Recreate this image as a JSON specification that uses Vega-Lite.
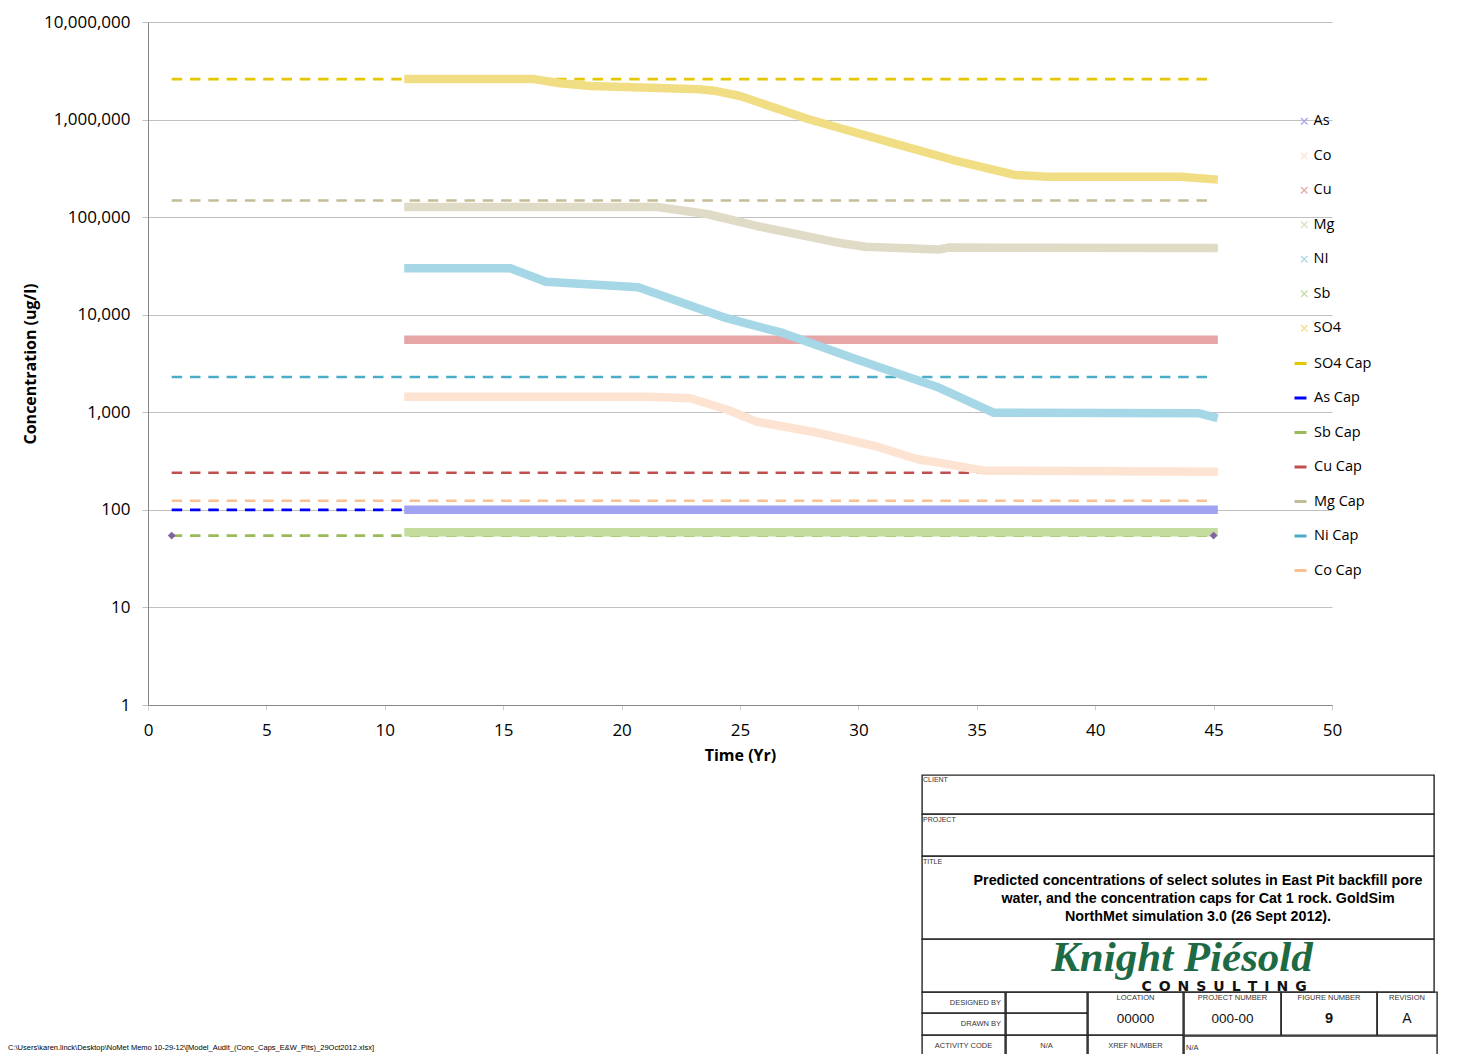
{
  "$schema": "https://vega.github.io/schema/vega-lite/v6.json",
  "padding": {"left": 8, "top": 13, "right": 0, "bottom": 0},
  "background": "white",
  "bounds": "flush",
  "spacing": 70,
  "config": {
    "font": "Liberation Sans",
    "title": {"font": "Liberation Sans", "fontWeight": "normal", "color": "#333333"}
  },
  "datasets": {
    "caps": [
      {"series": "SO4 Cap", "t": 1, "c": 2600000}, {"series": "SO4 Cap", "t": 45, "c": 2600000},
      {"series": "Mg Cap", "t": 1, "c": 148000}, {"series": "Mg Cap", "t": 45, "c": 148000},
      {"series": "Ni Cap", "t": 1, "c": 2300}, {"series": "Ni Cap", "t": 45, "c": 2300},
      {"series": "Cu Cap", "t": 1, "c": 240}, {"series": "Cu Cap", "t": 45, "c": 240},
      {"series": "Co Cap", "t": 1, "c": 124}, {"series": "Co Cap", "t": 45, "c": 124},
      {"series": "As Cap", "t": 1, "c": 100}, {"series": "As Cap", "t": 45, "c": 100},
      {"series": "Sb Cap", "t": 1, "c": 54.5}, {"series": "Sb Cap", "t": 45, "c": 54.5}
    ],
    "bands": [
      {"series": "Cu", "t": 11, "c": 5550}, {"series": "Cu", "t": 45, "c": 5550},
      {"series": "As", "t": 11, "c": 100}, {"series": "As", "t": 45, "c": 100},
      {"series": "Sb", "t": 11, "c": 59}, {"series": "Sb", "t": 45, "c": 59},
      {"series": "Mg", "t": 11, "c": 127000}, {"series": "Mg", "t": 21.5, "c": 127000},
      {"series": "Mg", "t": 23.6, "c": 107700}, {"series": "Mg", "t": 25.7, "c": 81200},
      {"series": "Mg", "t": 29.3, "c": 53950}, {"series": "Mg", "t": 30.3, "c": 49800},
      {"series": "Mg", "t": 33.4, "c": 46600}, {"series": "Mg", "t": 33.8, "c": 48800},
      {"series": "Mg", "t": 45, "c": 48300},
      {"series": "Co", "t": 11, "c": 1445}, {"series": "Co", "t": 21.1, "c": 1445},
      {"series": "Co", "t": 22.9, "c": 1391}, {"series": "Co", "t": 24.5, "c": 1056},
      {"series": "Co", "t": 25.7, "c": 801}, {"series": "Co", "t": 28.4, "c": 609},
      {"series": "Co", "t": 30.8, "c": 444}, {"series": "Co", "t": 32.5, "c": 330},
      {"series": "Co", "t": 33.4, "c": 305}, {"series": "Co", "t": 35.3, "c": 252},
      {"series": "Co", "t": 45, "c": 246},
      {"series": "NI", "t": 11, "c": 29900}, {"series": "NI", "t": 15.3, "c": 29900},
      {"series": "NI", "t": 16.8, "c": 21800}, {"series": "NI", "t": 20.7, "c": 19100},
      {"series": "NI", "t": 24.4, "c": 9260}, {"series": "NI", "t": 26.8, "c": 6500},
      {"series": "NI", "t": 30, "c": 3435}, {"series": "NI", "t": 33.3, "c": 1830},
      {"series": "NI", "t": 35.7, "c": 990}, {"series": "NI", "t": 44.4, "c": 975},
      {"series": "NI", "t": 45, "c": 895},
      {"series": "SO4", "t": 11, "c": 2605000}, {"series": "SO4", "t": 16.3, "c": 2600000},
      {"series": "SO4", "t": 17.4, "c": 2354000}, {"series": "SO4", "t": 18.7, "c": 2210000},
      {"series": "SO4", "t": 23.3, "c": 2044000}, {"series": "SO4", "t": 23.9, "c": 1977000},
      {"series": "SO4", "t": 25, "c": 1745000}, {"series": "SO4", "t": 27.9, "c": 1007000},
      {"series": "SO4", "t": 31.5, "c": 571000}, {"series": "SO4", "t": 34, "c": 385000},
      {"series": "SO4", "t": 36.6, "c": 270400}, {"series": "SO4", "t": 38, "c": 259800},
      {"series": "SO4", "t": 43.6, "c": 259800}, {"series": "SO4", "t": 45, "c": 244300}
    ]
  },
  "vconcat": [
    {
      "width": 1184,
      "height": 683,
      "view": {"stroke": null},
      "encoding": {
        "x": {
          "field": "t", "type": "quantitative",
          "scale": {"domain": [0, 50], "nice": false, "zero": false},
          "axis": {
            "values": [0, 5, 10, 15, 20, 25, 30, 35, 40, 45, 50],
            "grid": false,
            "title": "Time (Yr)",
            "titleFont": "Open Sans", "titleFontSize": 16, "titleFontWeight": "bold", "titleColor": "#000000",
            "titlePadding": 9,
            "labelFont": "Open Sans", "labelFontSize": 17, "labelColor": "#000000",
            "labelPadding": 12, "labelFlush": false, "labelOverlap": false,
            "domainColor": "#868686", "domainWidth": 1,
            "tickColor": "#d0d0d0", "tickSize": 5
          }
        },
        "y": {
          "field": "c", "type": "quantitative",
          "scale": {"type": "log", "domain": [1, 10000000], "nice": false},
          "axis": {
            "values": [1, 10, 100, 1000, 10000, 100000, 1000000, 10000000],
            "format": ",d",
            "grid": true, "gridColor": "#c0c0c0", "gridWidth": 1,
            "title": "Concentration (ug/l)",
            "titleFont": "Open Sans", "titleFontSize": 16, "titleFontWeight": "bold", "titleColor": "#000000",
            "titlePadding": 6,
            "labelFont": "Open Sans", "labelFontSize": 17, "labelColor": "#000000",
            "labelPadding": 12, "labelFlush": false, "labelOverlap": false,
            "tickSize": 6, "tickColor": "#c0c0c0",
            "domainColor": "#868686",
            "minExtent": 104, "maxExtent": 104
          }
        }
      },
      "layer": [
        {
          "data": {"name": "caps"},
          "mark": {"type": "line", "strokeDash": [10.5, 7.8], "strokeWidth": 2.6, "strokeCap": "butt"},
          "encoding": {
            "stroke": {
              "field": "series", "type": "nominal",
              "scale": {
                "domain": ["SO4 Cap", "As Cap", "Sb Cap", "Cu Cap", "Mg Cap", "Ni Cap", "Co Cap"],
                "range": ["#e5c700", "#0000ff", "#9bbb59", "#c0504d", "#c4bd97", "#4bacc6", "#fac090"]
              },
              "legend": {
                "orient": "none", "legendX": 1145, "legendY": 334,
                "title": null,
                "labelFont": "Open Sans", "labelFontSize": 14.5, "labelColor": "#000000",
                "labelOffset": 6, "rowPadding": 19.5,
                "symbolType": "stroke", "symbolSize": 144, "symbolStrokeWidth": 3
              }
            }
          }
        },
        {
          "data": {"name": "bands"},
          "mark": {"type": "line", "strokeWidth": 8.5, "strokeCap": "square", "strokeJoin": "round"},
          "encoding": {
            "color": {
              "field": "series", "type": "nominal",
              "scale": {
                "domain": ["As", "Co", "Cu", "Mg", "NI", "Sb", "SO4"],
                "range": ["#a2a2f2", "#fde3d2", "#e6a6a6", "#e0dbc6", "#a6d7e6", "#c4dd9e", "#f1de84"]
              },
              "legend": {
                "orient": "none", "legendX": 1149, "legendY": 92,
                "title": null,
                "labelFont": "Open Sans", "labelFontSize": 14.5, "labelColor": "#000000",
                "labelOffset": 2, "rowPadding": 19.5,
                "symbolType": "M-1,-1L1,1M1,-1L-1,1", "symbolSize": 42, "symbolStrokeWidth": 1.2,
                "symbolFillColor": "transparent"
              }
            }
          }
        },
        {
          "data": {"name": "caps"},
          "transform": [{"filter": "datum.series === 'Sb Cap'"}],
          "mark": {"type": "point", "shape": "diamond", "filled": true, "size": 60, "opacity": 1, "color": "#8064a2"}
        }
      ]
    },
    {
      "hconcat": [
        {
          "width": 774, "height": 279,
          "view": {"stroke": null},
          "title": {
            "text": "C:\\Users\\karen.linck\\Desktop\\NoMet Memo 10-29-12\\[Model_Audit_(Conc_Caps_E&W_Pits)_29Oct2012.xlsx]",
            "orient": "bottom", "anchor": "start", "dx": -140, "offset": -10,
            "fontSize": 7.5, "color": "#000000", "font": "Liberation Sans", "fontWeight": "normal"
          },
          "data": {"values": [{"v": ""}]},
          "mark": "text",
          "encoding": {"text": {"field": "v"}}
        },
        {
          "spacing": 0,
          "bounds": "flush",
          "vconcat": [
            {
              "width": 512, "height": 39,
              "view": {"stroke": "#262626", "strokeWidth": 1.4},
              "title": {"text": "CLIENT", "orient": "top", "anchor": "start", "offset": -8, "fontSize": 7, "dx": 1},
              "data": {"values": [{"v": ""}]},
              "mark": "text",
              "encoding": {"text": {"field": "v"}}
            },
            {
              "width": 512, "height": 42,
              "view": {"stroke": "#262626", "strokeWidth": 1.4},
              "title": {"text": "PROJECT", "orient": "top", "anchor": "start", "offset": -9, "fontSize": 7, "dx": 1},
              "data": {"values": [{"v": ""}]},
              "mark": "text",
              "encoding": {"text": {"field": "v"}}
            },
            {
              "width": 512, "height": 83,
              "view": {"stroke": "#262626", "strokeWidth": 1.4},
              "title": {"text": "TITLE", "orient": "top", "anchor": "start", "offset": -9, "fontSize": 7, "dx": 1},
              "data": {"values": [{"v": "Predicted concentrations of select solutes in  East Pit backfill pore\nwater, and the concentration caps for Cat 1 rock.  GoldSim\nNorthMet simulation 3.0 (26 Sept 2012)."}]},
              "mark": {"type": "text", "lineBreak": "\n", "lineHeight": 18, "fontSize": 14.3, "fontWeight": "bold", "font": "Liberation Sans", "color": "#000000", "align": "center", "baseline": "middle", "dx": 20, "dy": -17},
              "encoding": {"text": {"field": "v"}}
            },
            {
              "width": 512, "height": 53,
              "view": {"stroke": "#262626", "strokeWidth": 1.4},
              "layer": [
                {
                  "data": {"values": [{"v": "Knight Piésold"}]},
                  "mark": {"type": "text", "font": "Liberation Serif", "fontStyle": "italic", "fontWeight": "bold", "fontSize": 43, "color": "#1d6a44", "align": "center", "baseline": "middle", "dx": 4, "dy": -8},
                  "encoding": {"text": {"field": "v"}}
                },
                {
                  "data": {"values": [{"v": "C\u2002O\u2002N\u2002S\u2002U\u2002L\u2002T\u2002I\u2002N\u2002G"}]},
                  "mark": {"type": "text", "font": "DejaVu Sans", "fontWeight": "bold", "fontSize": 14, "color": "#111111", "align": "center", "baseline": "middle", "dx": 46, "dy": 21},
                  "encoding": {"text": {"field": "v"}}
                }
              ]
            },
            {
              "spacing": -2.4,
              "bounds": "full",
              "hconcat": [
                {
                  "spacing": 0, "bounds": "flush",
                  "vconcat": [
                    {
                      "width": 83, "height": 21,
                      "view": {"stroke": "#262626", "strokeWidth": 1.4},
                      "title": {"text": "DESIGNED BY", "orient": "top", "anchor": "end", "offset": -14, "fontSize": 7.5, "dx": -4},
                      "data": {"values": [{"v": ""}]}, "mark": "text", "encoding": {"text": {"field": "v"}}
                    },
                    {
                      "width": 83, "height": 22,
                      "view": {"stroke": "#262626", "strokeWidth": 1.4},
                      "title": {"text": "DRAWN BY", "orient": "top", "anchor": "end", "offset": -14, "fontSize": 7.5, "dx": -4},
                      "data": {"values": [{"v": ""}]}, "mark": "text", "encoding": {"text": {"field": "v"}}
                    },
                    {
                      "width": 83, "height": 25,
                      "view": {"stroke": "#262626", "strokeWidth": 1.4},
                      "data": {"values": [{"v": "ACTIVITY CODE"}]},
                      "mark": {"type": "text", "fontSize": 7.5, "color": "#333333", "dy": -2},
                      "encoding": {"text": {"field": "v"}}
                    }
                  ]
                },
                {
                  "spacing": 0, "bounds": "flush",
                  "vconcat": [
                    {
                      "width": 81, "height": 21,
                      "view": {"stroke": "#262626", "strokeWidth": 1.4},
                      "data": {"values": [{"v": ""}]}, "mark": "text", "encoding": {"text": {"field": "v"}}
                    },
                    {
                      "width": 81, "height": 22,
                      "view": {"stroke": "#262626", "strokeWidth": 1.4},
                      "data": {"values": [{"v": ""}]}, "mark": "text", "encoding": {"text": {"field": "v"}}
                    },
                    {
                      "width": 81, "height": 25,
                      "view": {"stroke": "#262626", "strokeWidth": 1.4},
                      "data": {"values": [{"v": "N/A"}]},
                      "mark": {"type": "text", "fontSize": 7.5, "color": "#333333", "dy": -2},
                      "encoding": {"text": {"field": "v"}}
                    }
                  ]
                },
                {
                  "spacing": 0, "bounds": "flush",
                  "vconcat": [
                    {
                      "width": 95, "height": 43,
                      "view": {"stroke": "#262626", "strokeWidth": 1.4},
                      "title": {"text": "LOCATION", "orient": "top", "anchor": "middle", "offset": -9, "fontSize": 7.5},
                      "data": {"values": [{"v": "00000"}]},
                      "mark": {"type": "text", "fontSize": 13.5, "color": "#111111", "dy": 5},
                      "encoding": {"text": {"field": "v"}}
                    },
                    {
                      "width": 95, "height": 25,
                      "view": {"stroke": "#262626", "strokeWidth": 1.4},
                      "data": {"values": [{"v": "XREF NUMBER"}]},
                      "mark": {"type": "text", "fontSize": 7.5, "color": "#333333", "dy": -2},
                      "encoding": {"text": {"field": "v"}}
                    }
                  ]
                },
                {
                  "spacing": -1.4, "bounds": "full",
                  "vconcat": [
                    {
                      "spacing": 0, "bounds": "flush",
                      "hconcat": [
                        {
                          "width": 97, "height": 43,
                          "view": {"stroke": "#262626", "strokeWidth": 1.4},
                          "title": {"text": "PROJECT NUMBER", "orient": "top", "anchor": "middle", "offset": -9, "fontSize": 7.5},
                          "data": {"values": [{"v": "000-00"}]},
                          "mark": {"type": "text", "fontSize": 13.5, "color": "#111111", "dy": 5},
                          "encoding": {"text": {"field": "v"}}
                        },
                        {
                          "width": 96, "height": 43,
                          "view": {"stroke": "#262626", "strokeWidth": 1.4},
                          "title": {"text": "FIGURE NUMBER", "orient": "top", "anchor": "middle", "offset": -9, "fontSize": 7.5},
                          "data": {"values": [{"v": "9"}]},
                          "mark": {"type": "text", "fontSize": 14.5, "fontWeight": "bold", "color": "#111111", "dy": 5},
                          "encoding": {"text": {"field": "v"}}
                        },
                        {
                          "width": 60, "height": 43,
                          "view": {"stroke": "#262626", "strokeWidth": 1.4},
                          "title": {"text": "REVISION", "orient": "top", "anchor": "middle", "offset": -9, "fontSize": 7.5},
                          "data": {"values": [{"v": "A"}]},
                          "mark": {"type": "text", "fontSize": 14, "color": "#111111", "dy": 5},
                          "encoding": {"text": {"field": "v"}}
                        }
                      ]
                    },
                    {
                      "width": 253, "height": 25,
                      "view": {"stroke": "#262626", "strokeWidth": 1.4},
                      "title": {"text": "N/A", "orient": "top", "anchor": "start", "offset": -15, "fontSize": 7.5, "dx": 2},
                      "data": {"values": [{"v": ""}]}, "mark": "text", "encoding": {"text": {"field": "v"}}
                    }
                  ]
                }
              ]
            }
          ]
        }
      ],
      "spacing": 0,
      "bounds": "flush"
    }
  ]
}
